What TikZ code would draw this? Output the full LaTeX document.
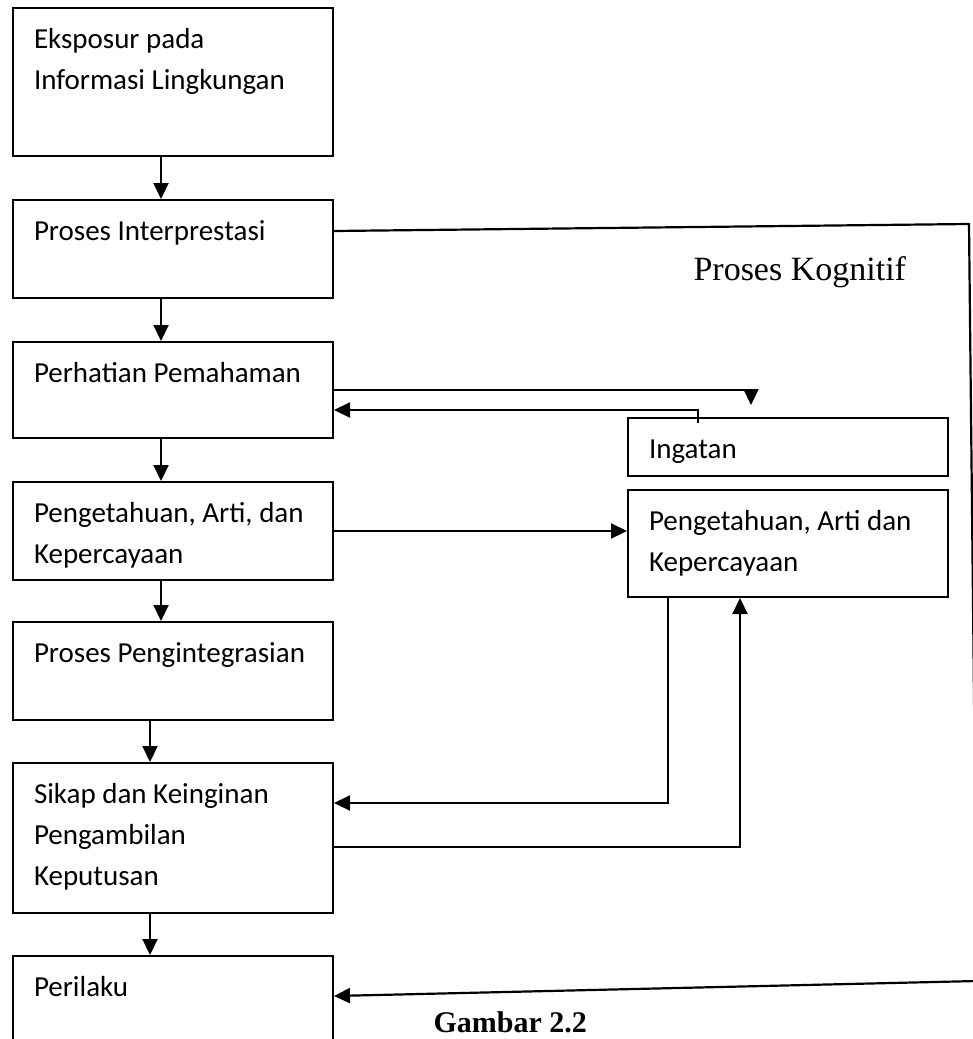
\documentclass[tikz,border=0pt]{standalone}
\usepackage{fontspec}
\usepackage{tikz}
\usetikzlibrary{arrows.meta,positioning}
\newfontfamily\boxfont{Carlito}
\newfontfamily\capfont{Liberation Serif}
\newcommand{\boxtxt}[2]{\hspace*{21pt}\parbox[c][#1][t]{299pt}{\raggedright\rule{0pt}{40pt}#2}}
\tikzset{
  kbox/.style={draw=black, line width=2pt, inner sep=0pt, font=\boxfont\fontsize{29}{41.3}\selectfont},
  karr/.style={-{Triangle[length=16pt,width=15pt]}, line width=2.2pt}
}

\begin{document}
\begin{tikzpicture}[x=1pt,y=-1pt]
\useasboundingbox (0,0) rectangle (973,1039);
\node[kbox, anchor=north west] (b1) at (12,7) {\boxtxt{148pt}{Eksposur pada\\Informasi Lingkungan}};
\node[kbox, below=42pt of b1] (b2) {\boxtxt{98pt}{Proses Interprestasi}};
\node[kbox, below=42pt of b2] (b3) {\boxtxt{96pt}{Perhatian Pemahaman}};
\node[kbox, below=42pt of b3] (b4) {\boxtxt{98pt}{Pengetahuan, Arti, dan\\Kepercayaan}};
\node[kbox, below=40pt of b4] (b5) {\boxtxt{98pt}{Proses Pengintegrasian}};
\node[kbox, below=41pt of b5] (b6) {\boxtxt{150pt}{Sikap dan Keinginan\\Pengambilan\\Keputusan}};
\node[kbox, below=41pt of b6] (b7) {\boxtxt{130pt}{Perilaku}};
\node[kbox, anchor=north west] (ing) at (627,417) {\boxtxt{58pt}{Ingatan}};
\node[kbox, below=12pt of ing] (kpr) {\boxtxt{107pt}{Pengetahuan, Arti dan\\Kepercayaan}};
\node[font=\capfont\fontsize{34}{40}\selectfont, anchor=base west] (kog) at (690,280) {Proses Kognitif};
\node[font=\capfont\bfseries\fontsize{30}{36}\selectfont, anchor=base west] (gbr) at (430,1032) {Gambar 2.2};
\draw[karr] ([xshift=-12pt]b1.south) -- ([xshift=-12pt]b2.north);
\draw[karr] ([xshift=-12pt]b2.south) -- ([xshift=-12pt]b3.north);
\draw[karr] ([xshift=-12pt]b3.south) -- ([xshift=-12pt]b4.north);
\draw[karr] ([xshift=-12pt]b4.south) -- ([xshift=-12pt]b5.north);
\draw[karr] ([xshift=-23pt]b5.south) -- ([xshift=-23pt]b6.north);
\draw[karr] ([xshift=-23pt]b6.south) -- ([xshift=-23pt]b7.north);
\draw[karr] (b3.east) -| ([xshift=-37pt,yshift=12pt]ing.north);
\draw[karr] ([xshift=-90pt,yshift=-6pt]ing.north) |- ([yshift=-20pt]b3.east);
\draw[karr] (b4.east) -- (b4.east -| kpr.west);
\draw[karr] ([xshift=-120pt]kpr.south) |- ([yshift=35pt]b6.east);
\draw[karr] ([yshift=-9pt]b6.east) -| ([xshift=-48pt]kpr.south);
\coordinate (rtop) at (969,224);
\coordinate (rbot) at (977,981);
\draw[karr] ([yshift=18pt]b2.east) -- (rtop) -- (rbot) -- ([yshift=25pt]b7.east);
\end{tikzpicture}
\end{document}
